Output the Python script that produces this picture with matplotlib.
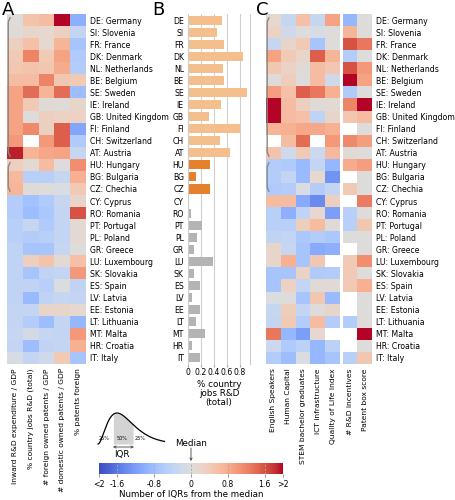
import numpy as np
import matplotlib
matplotlib.use("Agg")
import matplotlib.pyplot as plt
from matplotlib.cm import ScalarMappable
from matplotlib.colors import Normalize

nan = np.nan

countries = ["DE: Germany", "SI: Slovenia", "FR: France", "DK: Denmark", "NL: Netherlands",
             "BE: Belgium", "SE: Sweden", "IE: Ireland", "GB: United Kingdom", "FI: Finland",
             "CH: Switzerland", "AT: Austria", "HU: Hungary", "BG: Bulgaria", "CZ: Chechia",
             "CY: Cyprus", "RO: Romania", "PT: Portugal", "PL: Poland", "GR: Greece",
             "LU: Luxembourg", "SK: Slovakia", "ES: Spain", "LV: Latvia", "EE: Estonia",
             "LT: Lithuania", "MT: Malta", "HR: Croatia", "IT: Italy"]
codes = [c.split(":")[0] for c in countries]
group = [0] * 12 + [1] * 3 + [2] * 14

# panel A columns (IQRs from median)
inward_rd = [0, 0.05, 0.3, 0.4, 0.45, 0.6, 0.9, 0.9, 0.9, 0.9, 1.0, 1.9, 0.3, 0.65, 0.7,
             -0.55, -0.55, -0.5, -0.5, -0.4, -0.4, -0.4, -0.4, -0.4, -0.35, -0.35, -0.3, -0.35, -0.1]
jobs_rd = [0.5, 0.2, 0.55, 1.2, 0.5, 0.6, 1.4, 0.4, 0.0, 1.15, nan, 0.7, 0.1, -0.5, 0.05,
           -0.75, -0.8, -0.3, -0.55, -0.7, 0.3, -0.7, -0.4, -0.85, -0.35, -0.55, -0.15, -0.8, -0.35]
foreign_pat = [0.6, 0.15, 0.15, 0.4, 0.45, 1.2, 0.7, 0.05, 0.3, 0.3, 1.0, 0.85, 0.6, -0.5, 0.0,
               -0.6, -0.65, -0.6, -0.5, -0.7, 0.5, -0.4, -0.5, -0.4, 0.2, -0.8, -0.3, -0.4, -0.2]
domestic_pat = [2.0, 0.3, 0.7, 0.9, 0.8, 0.45, 1.4, 0.05, 0.25, 1.5, 1.5, 0.9, 0.0, -0.3, -0.05,
                -0.3, -0.35, -0.35, -0.35, -0.3, 0.1, -0.35, -0.05, -0.3, 0.2, -0.35, -0.35, -0.35, 0.4]
pat_foreign = [-1.0, -0.35, -0.7, -0.6, -0.55, 0.4, -0.8, 0.2, 0.25, -1.1, -0.6, -0.3, 1.1, 0.75, 0.4,
               0.2, 1.6, 0.1, 0.1, 0.0, 0.55, 1.0, -0.4, -0.35, 0.15, -0.9, 1.0, 0.75, -0.7]
labels_a = ["Inward R&D expenditure / GDP", "% country jobs R&D (total)",
            "# foreign owned patents / GDP", "# domestic owned patents / GDP", "% patents foreign"]

# panel B
jobs_share = [0.52, 0.45, 0.56, 0.84, 0.54, 0.56, 0.91, 0.51, 0.33, 0.80, 0.50, 0.64, 0.34, 0.12, 0.34,
              0.02, 0.05, 0.22, 0.14, 0.09, 0.39, 0.09, 0.19, 0.06, 0.19, 0.13, 0.26, 0.06, 0.19]

# panel C columns
english = [0.15, 0.25, -0.3, 0.9, 0.45, 0.05, 0.95, 2.0, 2.0, 0.7, nan, 0.5, -0.55, -0.55, -0.6,
           0.6, -0.5, -0.5, -0.4, 0.2, 0.2, -0.7, -0.7, -0.05, -0.3, -0.35, 1.3, -0.25, -0.55]
human_cap = [-0.3, -0.2, 0.2, 0.4, 0.25, 0.35, 0.55, 0.6, 0.6, 0.75, 0.6, -0.2, -0.6, -0.35, -0.55,
             0.6, -1.0, -0.5, -0.35, -0.3, 0.75, -0.7, 0.25, 0.0, 0.35, 0.4, -0.9, -0.6, -0.8]
stem = [0.55, 0.0, 0.4, 0.2, 0.05, 0.0, 1.5, 0.3, 0.55, 0.85, 1.4, 0.4, -0.85, -0.85, -0.05,
        -1.05, -0.4, 0.35, -0.65, -0.7, -0.7, 0.25, -0.35, -0.7, -0.35, -0.55, -1.2, -0.45, -0.05]
ict = [-0.3, -0.1, -0.7, 1.5, 0.6, 0.6, 1.3, 0.05, -0.4, 0.85, nan, -0.25, -0.35, 0.15, -0.55,
       -1.4, 0.15, 0.6, -0.55, -1.05, 0.45, -0.6, 0.05, 0.45, 0.0, 0.6, 0.15, -0.9, -0.9]
qol = [0.9, 0.0, 0.0, 0.7, 0.45, -0.2, 0.75, 0.1, 0.2, 0.75, 1.0, 0.65, -0.9, -1.3, -0.35,
       0.3, -1.2, 0.05, -0.65, -1.0, nan, -0.55, 0.05, -0.85, 0.2, -0.55, nan, -0.45, -0.7]
rd_incent = [-0.9, 0.7, 1.6, -0.55, 1.6, 2.0, -0.6, 1.2, 0.45, nan, 1.15, 0.05, 0.8, nan, 0.4,
             nan, -0.5, -0.5, 0.0, nan, 0.4, 0.4, 0.4, nan, nan, -0.55, nan, nan, -0.5]
patent_box = [0, 0, 1.3, 0, 1.0, 0.9, 0, 2.0, 0.6, 0, 0.95, 0, 0.95, 0, 0,
              1.25, 0, 0.45, 0, 0, 1.1, 0, 0.75, 0, 0, 0, 2.0, 0, 0.45]
labels_c1 = ["English Speakers", "Human Capital", "STEM bachelor graduates",
             "ICT infrastructure", "Quality of Life Index"]
labels_c2 = ["# R&D incentives", "Patent box score"]

cbar_ticks = [-2, -1.6, -0.8, 0, 0.8, 1.6, 2]
cbar_labels = ["<2", "-1.6", "-0.8", "0", "0.8", "1.6", ">2"]

W, H = 455, 500
fig = plt.figure(figsize=(W / 100, H / 100), dpi=100)
plt.rcParams['font.family'] = 'DejaVu Sans'
cmap = plt.get_cmap('coolwarm').copy()
cmap.set_bad('white')
fs = 5.6
fs_col = 5.4


def px_axes(x0, y0, x1, y1):
    return fig.add_axes([x0 / W, 1 - y1 / H, (x1 - x0) / W, (y1 - y0) / H])


def heat(ax, cols, xlabels, ylabels=None):
    m = np.array(cols, dtype=float).T
    ax.imshow(m, cmap=cmap, vmin=-2, vmax=2, aspect='auto', interpolation='nearest')
    ax.set_xticks(range(len(xlabels)))
    ax.set_xticklabels(xlabels, rotation=90, fontsize=fs_col)
    ax.tick_params(length=0, pad=3)
    if ylabels is not None:
        ax.yaxis.tick_right()
        ax.set_yticks(range(len(ylabels)))
        ax.set_yticklabels(ylabels, fontsize=fs)
    else:
        ax.set_yticks([])
    for s in ax.spines.values():
        s.set_visible(False)


def bracket(ax, top, bottom, x=-0.42):
    xs = [x + 0.12, x, x, x + 0.12]
    ys = [top, top + 0.35, bottom - 0.35, bottom]
    ax.plot(xs, ys, color='#888888', lw=1, clip_on=False, solid_capstyle='round')


top, bot = 14, 364

# A
axA = px_axes(7, top, 86, bot)
heat(axA, [inward_rd, jobs_rd, foreign_pat, domestic_pat, pat_foreign], labels_a, countries)
bracket(axA, -0.2, 11.3)
bracket(axA, 11.8, 14.2)

# B
axB = px_axes(188, top, 250, bot)
bar_colors = {0: '#f5bf8d', 1: '#e5802c', 2: '#b4b4b4'}
axB.barh(range(len(codes)), jobs_share, height=0.75, color=[bar_colors[g] for g in group], zorder=2)
axB.set_ylim(len(codes) - 0.5, -0.5)
axB.set_yticks(range(len(codes)))
axB.set_yticklabels(codes, fontsize=fs)
axB.set_xticks([0, 0.2, 0.4, 0.6, 0.8])
axB.set_xticklabels(["0", "0.2", "0.4", "0.6", "0.8"], fontsize=fs)
axB.set_xlim(0, 0.955)
axB.grid(axis='x', color='#d0d0d0', lw=0.8, zorder=0)
axB.tick_params(axis='y', length=0, pad=3)
axB.tick_params(axis='x', length=2, color='#aaaaaa', pad=1)
for k in ['top', 'bottom']:
    axB.spines[k].set_visible(False)
for k in ['left', 'right']:
    axB.spines[k].set_color('#cccccc')
axB.set_xlabel("% country\njobs R&D\n(total)", fontsize=6.3, labelpad=2, linespacing=1.0)

# C
axC1 = px_axes(266, top, 340, bot)
heat(axC1, [english, human_cap, stem, ict, qol], labels_c1)
bracket(axC1, -0.2, 11.3)
bracket(axC1, 11.8, 14.2)
axC2 = px_axes(343, top, 372, bot)
heat(axC2, [rd_incent, patent_box], labels_c2, countries)

# colorbar
cax = px_axes(99, 463, 283, 474)
cb = fig.colorbar(ScalarMappable(norm=Normalize(-2, 2), cmap=cmap), cax=cax, orientation='horizontal')
cb.outline.set_visible(False)
cb.set_ticks(cbar_ticks)
cb.set_ticklabels(cbar_labels)
cax.tick_params(labelsize=fs, length=2, color='#999999', pad=2)
for t in [-1.6, -0.8, 0, 0.8, 1.6]:
    cax.axvline(t, color='#aaaaaa', lw=0.7, ls=(0, (2, 2)))

# overlay for annotations
ov = fig.add_axes([0, 0, 1, 1])
ov.set_xlim(0, W)
ov.set_ylim(H, 0)
ov.axis('off')
ov.patch.set_alpha(0)

for s, x in [("A", 2), ("B", 152), ("C", 256)]:
    ov.text(x, 10, s, fontsize=13, va='center', ha='left')

# IQR sketch (schematic skewed distribution)
t = np.linspace(0, 7, 200)
f = t ** 2 * np.exp(-t)
f = f / f.max()
cx = 98 + t * 9.5
cy = 444 - f * 31
ov.plot(cx, cy, color='black', lw=0.9)
m = (t >= 1.6) & (t <= 3.7)
ov.fill_between(cx[m], cy[m], 444, color='#d3d3d3', lw=0)
ov.text(104, 439, "25%", fontsize=3.5, ha='center', va='center')
ov.text(122, 439, "50%", fontsize=3.5, ha='center', va='center')
ov.text(140, 439, "25%", fontsize=3.5, ha='center', va='center')
ov.annotate('', xy=(113, 447), xytext=(134, 447),
            arrowprops=dict(arrowstyle='<->', lw=0.6, color='#444444', shrinkA=0, shrinkB=0,
                            mutation_scale=4))
ov.text(122, 454, "IQR", fontsize=6.3, ha='center', va='center')

ov.text(191, 443, "Median", fontsize=6.3, ha='center', va='center')
ov.annotate('', xy=(191, 461), xytext=(191, 448),
            arrowprops=dict(arrowstyle='->', lw=0.6, color='#444444', shrinkA=0, shrinkB=0,
                            mutation_scale=4))
ov.text(191, 494, "Number of IQRs from the median", fontsize=6.3, ha='center', va='center')

fig.savefig("out.png", dpi=100)
